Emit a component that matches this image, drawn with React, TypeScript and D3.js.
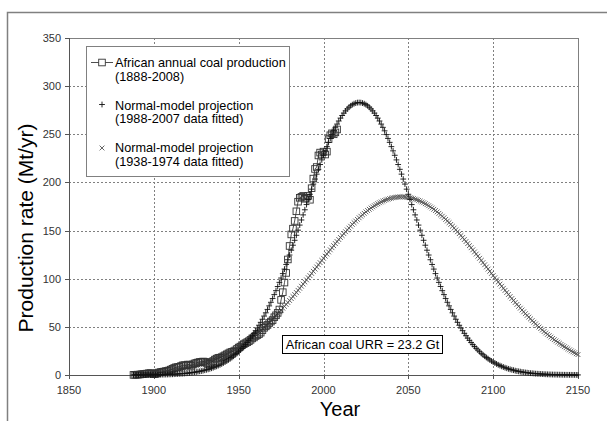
import React from "react";
import * as d3 from "d3";

// ---------- DATA ----------
const prodStartYear = 1888;
// African annual coal production, Mt/yr, 1888-2008
const prodValues = [
  0.1, 0.2, 0.3, 0.4, 0.6, 0.8, 1.0, 1.3, 1.5, 1.8, 2.0, 1.5,
  0.8, 1.2, 2.0, 2.6, 3.0, 3.3, 3.6, 4.0, 4.3, 4.8,
  5.6, 6.5, 7.3, 8.0, 8.2, 8.5, 9.3, 10.0, 10.3, 10.0,
  10.8, 10.8, 9.5, 11.0, 12.0, 12.5, 13.0, 13.5, 13.6, 14.0,
  13.8, 12.5, 11.5, 12.0, 13.5, 14.5, 16.0, 17.0, 17.8, 18.0,
  18.5, 19.5, 20.5, 21.5, 22.5, 23.5, 24.0, 24.5, 25.5, 27.0,
  28.5, 29.5, 31.0, 32.0, 33.0, 34.0, 35.0, 36.5, 38.0, 39.0,
  40.5, 41.5, 42.5, 44.0, 46.5, 49.0, 50.5, 52.0, 54.0, 55.5,
  57.0, 60.0, 62.0, 64.5, 68.0, 78.0, 86.0, 96.0, 106.0, 120.0,
  134, 146, 152, 160, 170, 180, 184, 185, 186, 183,
  184, 186, 182, 194, 204, 214, 216, 228, 231, 229,
  232, 229, 232, 245, 249, 251, 250, 252, 255,
];

const modelStartYear = 1888;
// Normal-model projection (1988-2007 data fitted), 1888-2150
const model1988Values = [
  0.05, 0.05, 0.06, 0.07, 0.08, 0.09, 0.11, 0.12, 0.14, 0.16, 0.18, 0.2,
  0.22, 0.25, 0.28, 0.32, 0.35, 0.4, 0.44, 0.49, 0.55, 0.62,
  0.69, 0.77, 0.86, 0.95, 1.1, 1.2, 1.3, 1.4, 1.6, 1.8,
  1.9, 2.1, 2.4, 2.6, 2.9, 3.1, 3.5, 3.8, 4.1, 4.5,
  5.0, 5.4, 5.9, 6.4, 7.0, 7.6, 8.3, 9.0, 9.8, 10.6,
  11.5, 12.5, 13.5, 14.5, 15.7, 16.9, 18.2, 19.5, 21.0, 22.5,
  24.2, 25.9, 27.7, 29.6, 31.6, 33.7, 36.0, 38.3, 40.8, 43.3,
  46.0, 48.8, 51.7, 54.7, 57.9, 61.2, 64.6, 68.1, 71.8, 75.5,
  79.4, 83.5, 87.6, 91.9, 96.2, 100.7, 105.3, 110.0, 114.8, 119.7,
  124.6, 129.6, 134.8, 139.9, 145.1, 150.4, 155.7, 161.0, 166.3, 171.6,
  177.0, 182.4, 187.7, 193.0, 198.3, 203.5, 208.6, 213.6, 218.6, 223.4,
  228.2, 232.8, 237.2, 241.6, 245.7, 249.7, 253.6, 257.2, 260.6, 263.8,
  266.8, 269.5, 272.0, 274.3, 276.3, 278.1, 279.6, 280.8, 281.8, 282.4,
  282.9, 283.0, 282.9, 282.4, 281.8, 280.8, 279.6, 278.1, 276.3, 274.3,
  272.0, 269.5, 266.8, 263.8, 260.6, 257.2, 253.6, 249.7, 245.7, 241.6,
  237.2, 232.8, 228.2, 223.4, 218.6, 213.6, 208.6, 203.5, 198.3, 193.0,
  187.7, 182.4, 177.0, 171.6, 166.3, 161.0, 155.7, 150.4, 145.1, 139.9,
  134.8, 129.6, 124.6, 119.7, 114.8, 110.0, 105.3, 100.7, 96.2, 91.9,
  87.6, 83.5, 79.4, 75.5, 71.8, 68.1, 64.6, 61.2, 57.9, 54.7,
  51.7, 48.8, 46.0, 43.3, 40.8, 38.3, 36.0, 33.7, 31.6, 29.6,
  27.7, 25.9, 24.2, 22.5, 21.0, 19.5, 18.2, 16.9, 15.7, 14.5,
  13.5, 12.5, 11.5, 10.6, 9.8, 9.0, 8.3, 7.6, 7.0, 6.4,
  5.9, 5.4, 5.0, 4.5, 4.1, 3.8, 3.5, 3.1, 2.9, 2.6,
  2.4, 2.1, 1.9, 1.8, 1.6, 1.4, 1.3, 1.2, 1.1, 0.95,
  0.86, 0.77, 0.69, 0.62, 0.55, 0.49, 0.44, 0.4, 0.35, 0.32,
  0.28, 0.25, 0.22, 0.2, 0.18, 0.16, 0.14, 0.12, 0.11, 0.09,
  0.08,
];

// Normal-model projection (1938-1974 data fitted), 1888-2150
const model1938Values = [
  1.3, 1.3, 1.4, 1.5, 1.6, 1.7, 1.8, 1.9, 2.1, 2.2, 2.3, 2.5,
  2.6, 2.8, 2.9, 3.1, 3.3, 3.5, 3.7, 3.9, 4.1, 4.3,
  4.6, 4.8, 5.1, 5.4, 5.7, 6.0, 6.3, 6.6, 7.0, 7.4,
  7.7, 8.1, 8.6, 9.0, 9.4, 9.9, 10.4, 10.9, 11.4, 11.9,
  12.5, 13.1, 13.7, 14.3, 15.0, 15.7, 16.4, 17.1, 17.9, 18.7,
  19.5, 20.4, 21.2, 22.1, 23.1, 24.0, 25.0, 26.1, 27.2, 28.3,
  29.4, 30.5, 31.7, 32.9, 34.1, 35.4, 36.7, 38.0, 39.4, 40.8,
  42.2, 43.6, 45.1, 46.7, 48.2, 49.8, 51.4, 53.1, 54.8, 56.5,
  58.3, 60.1, 61.9, 63.7, 65.6, 67.5, 69.4, 71.3, 73.3, 75.3,
  77.4, 79.4, 81.5, 83.6, 85.7, 87.9, 90.0, 92.2, 94.4, 96.6,
  98.8, 101.0, 103.2, 105.5, 107.7, 110.0, 112.2, 114.5, 116.7, 119.0,
  121.2, 123.4, 125.6, 127.8, 130.0, 132.2, 134.3, 136.5, 138.6, 140.7,
  142.8, 144.8, 146.8, 148.8, 150.7, 152.6, 154.5, 156.4, 158.2, 159.9,
  161.6, 163.3, 164.9, 166.4, 167.9, 169.4, 170.8, 172.1, 173.4, 174.6,
  175.8, 176.9, 177.9, 178.9, 179.7, 180.6, 181.3, 182.0, 182.6, 183.2,
  183.7, 184.1, 184.4, 184.7, 184.9, 185.0, 185.0, 185.0, 184.9, 184.7,
  184.4, 184.1, 183.7, 183.2, 182.6, 182.0, 181.3, 180.6, 179.7, 178.9,
  177.9, 176.9, 175.8, 174.6, 173.4, 172.1, 170.8, 169.4, 167.9, 166.4,
  164.9, 163.3, 161.6, 159.9, 158.2, 156.4, 154.5, 152.6, 150.7, 148.8,
  146.8, 144.8, 142.8, 140.7, 138.6, 136.5, 134.3, 132.2, 130.0, 127.8,
  125.6, 123.4, 121.2, 119.0, 116.7, 114.5, 112.2, 110.0, 107.7, 105.5,
  103.2, 101.0, 98.8, 96.6, 94.4, 92.2, 90.0, 87.9, 85.7, 83.6,
  81.5, 79.4, 77.4, 75.3, 73.3, 71.3, 69.4, 67.5, 65.6, 63.7,
  61.9, 60.1, 58.3, 56.5, 54.8, 53.1, 51.4, 49.8, 48.2, 46.7,
  45.1, 43.6, 42.2, 40.8, 39.4, 38.0, 36.7, 35.4, 34.1, 32.9,
  31.7, 30.5, 29.4, 28.3, 27.2, 26.1, 25.0, 24.0, 23.1, 22.1,
  21.2,
];

const xTicks = [1850, 1900, 1950, 2000, 2050, 2100, 2150];
const yTicks = [0, 50, 100, 150, 200, 250, 300, 350];
const legendEntries = [
  ["African annual coal production", "(1888-2008)"],
  ["Normal-model projection", "(1988-2007 data fitted)"],
  ["Normal-model projection", "(1938-1974 data fitted)"],
];
const annotationText = "African coal URR = 23.2 Gt";
const xTitle = "Year";
const yTitle = "Production rate (Mt/yr)";

// ---------- CHART ----------
const W = 607;
const H = 421;
const FONT = "'Liberation Sans', Arial, Helvetica, sans-serif";

export default function App() {
  const x = d3.scaleLinear().domain([1850, 2150]).range([69, 578]);
  const y = d3.scaleLinear().domain([0, 350]).range([375, 38]);

  const prod = prodValues.map((v, i) => ({ yr: prodStartYear + i, v }));
  const m1 = model1988Values.map((v, i) => ({ yr: modelStartYear + i, v }));
  const m2 = model1938Values.map((v, i) => ({ yr: modelStartYear + i, v }));

  const line = d3
    .line<{ yr: number; v: number }>()
    .x((d) => x(d.yr))
    .y((d) => y(d.v));

  const [x0, x1] = x.range();
  const [y0, y1] = y.range();

  const sq = 3.3;
  const pl = 2.9;
  const cr = 2.4;

  const legendX = 86;
  const legendY = 46;
  const symX = 102;
  const textX = 115;
  const rowTop = [67, 109.5, 152];
  const symY = [62.5, 104.5, 148];

  return (
    <svg
      width={W}
      height={H}
      style={{ position: "absolute", left: 0, top: 0, background: "#fff" }}
      fontFamily={FONT}
    >
      <rect x={0} y={0} width={W} height={H} fill="#fff" />
      {/* outer chart border */}
      <rect x={7.5} y={12.5} width={W + 10} height={H + 10} fill="none" stroke="#808080" strokeWidth={1.5} />

      {/* grid */}
      {yTicks
        .filter((t) => t > 0 && t < 350)
        .map((t) => (
          <line key={"gy" + t} x1={x0} x2={x1} y1={Math.round(y(t)) + 0.5} y2={Math.round(y(t)) + 0.5}
            stroke="#808080" strokeWidth={1} strokeDasharray="2,2" />
        ))}
      {xTicks
        .filter((t) => t > 1850 && t < 2150)
        .map((t) => (
          <line key={"gx" + t} x1={Math.round(x(t)) + 0.5} x2={Math.round(x(t)) + 0.5} y1={y1} y2={y0}
            stroke="#808080" strokeWidth={1} strokeDasharray="2,2" />
        ))}

      {/* plot frame */}
      <rect x={x0 + 0.5} y={y1 + 0.5} width={x1 - x0} height={y0 - y1} fill="none" stroke="#808080" strokeWidth={1} />
      {/* axes */}
      <line x1={x0 + 0.5} x2={x0 + 0.5} y1={y1} y2={y0 + 0.5} stroke="#555" strokeWidth={1} />
      <line x1={x0} x2={x1} y1={y0 + 0.5} y2={y0 + 0.5} stroke="#555" strokeWidth={1} />

      {/* y ticks */}
      {yTicks.map((t) => (
        <g key={"yt" + t}>
          <line x1={x0 - 4} x2={x0} y1={Math.round(y(t)) + 0.5} y2={Math.round(y(t)) + 0.5} stroke="#555" />
          <text x={x0 - 8} y={y(t) + 4} fontSize={11} fill="#333" textAnchor="end">{t}</text>
        </g>
      ))}
      {/* x ticks */}
      {xTicks.map((t) => (
        <g key={"xt" + t}>
          <line x1={Math.round(x(t)) + 0.5} x2={Math.round(x(t)) + 0.5} y1={y0} y2={y0 + 4} stroke="#555" />
          <text x={x(t)} y={394} fontSize={11} fill="#333" textAnchor="middle">{t}</text>
        </g>
      ))}

      {/* model 1938 (x markers) */}
      <g stroke="#555" strokeWidth={0.9}>
        {m2.map((d) => {
          const cx = x(d.yr), cy = y(d.v);
          return (
            <path key={"m2" + d.yr} d={`M${cx - cr},${cy - cr}L${cx + cr},${cy + cr}M${cx - cr},${cy + cr}L${cx + cr},${cy - cr}`} />
          );
        })}
      </g>

      {/* production (squares with line) */}
      <path d={line(prod) || ""} fill="none" stroke="#222" strokeWidth={0.8} />
      <g fill="none" stroke="#333" strokeWidth={0.9}>
        {prod.map((d) => (
          <rect key={"p" + d.yr} x={x(d.yr) - sq} y={y(d.v) - sq} width={sq * 2} height={sq * 2} />
        ))}
      </g>

      {/* model 1988 (+ markers) */}
      <g stroke="#111" strokeWidth={0.9}>
        {m1.map((d) => {
          const cx = x(d.yr), cy = y(d.v);
          return (
            <path key={"m1" + d.yr} d={`M${cx - pl},${cy}L${cx + pl},${cy}M${cx},${cy - pl}L${cx},${cy + pl}`} />
          );
        })}
      </g>

      {/* legend */}
      <rect x={legendX + 0.5} y={legendY + 0.5} width={203} height={130} fill="#fff" stroke="#808080" strokeWidth={1} />
      <line x1={symX - 11} x2={symX + 11} y1={symY[0]} y2={symY[0]} stroke="#222" strokeWidth={0.8} />
      <rect x={symX - sq} y={symY[0] - sq} width={sq * 2} height={sq * 2} fill="#fff" stroke="#333" strokeWidth={0.9} />
      <path d={`M${symX - pl},${symY[1]}L${symX + pl},${symY[1]}M${symX},${symY[1] - pl}L${symX},${symY[1] + pl}`} stroke="#111" strokeWidth={0.9} />
      <path d={`M${symX - cr},${symY[2] - cr}L${symX + cr},${symY[2] + cr}M${symX - cr},${symY[2] + cr}L${symX + cr},${symY[2] - cr}`} stroke="#555" strokeWidth={0.9} />
      {legendEntries.map((lines, i) => (
        <text key={"lg" + i} x={textX} y={rowTop[i]} fontSize={12.7} fill="#000">
          <tspan x={textX} y={rowTop[i]}>{lines[0]}</tspan>
          <tspan x={textX} y={rowTop[i] + 13.5}>{lines[1]}</tspan>
        </text>
      ))}

      {/* annotation */}
      <rect x={282.5} y={335.5} width={160} height={18} fill="#fff" stroke="#000" strokeWidth={1} />
      <text x={362.5} y={349} fontSize={12.7} textAnchor="middle" fill="#000">{annotationText}</text>

      {/* axis titles */}
      <text x={340} y={416} fontSize={20} textAnchor="middle" fill="#000">{xTitle}</text>
      <text transform={`translate(33,228) rotate(-90)`} fontSize={21} textAnchor="middle" fill="#000">{yTitle}</text>
    </svg>
  );
}
